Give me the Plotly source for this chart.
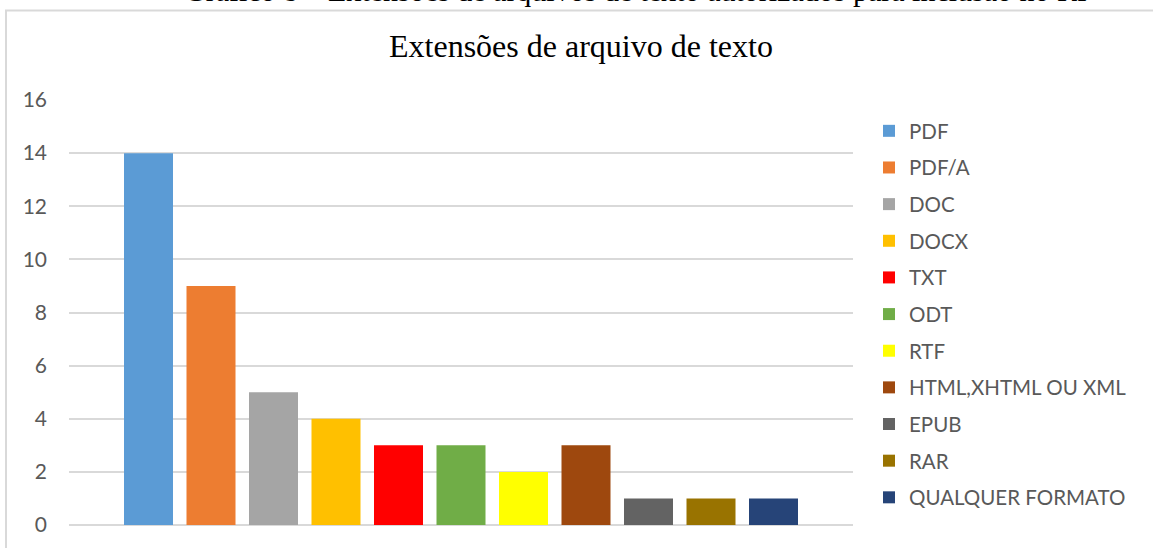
import plotly.graph_objects as go

# Extensões de arquivo de texto aceitas
categorias = ["PDF", "PDF/A", "DOC", "DOCX", "TXT", "ODT", "RTF",
              "HTML,XHTML OU XML", "EPUB", "RAR", "QUALQUER FORMATO"]
valores = [14, 9, 5, 4, 3, 3, 2, 3, 1, 1, 1]
cores = ["#5B9BD5", "#ED7D31", "#A5A5A5", "#FFC000", "#FF0000", "#70AD47",
         "#FFFF00", "#9E480E", "#636363", "#997300", "#264478"]
ticks_y = [0, 2, 4, 6, 8, 10, 12, 14, 16]

titulo = "Extensões de arquivo de texto"
legenda_figura = "Gráfico 8 – Extensões de arquivos de texto autorizados para inclusão no RI"

W, H = 1153, 548
M_L, M_R, M_T, M_B = 69, 300, 100, 23
plot_w = W - M_L - M_R
plot_h = H - M_T - M_B


def px_x(p):
    return (p - M_L) / plot_w


def px_y(p):
    return (H - M_B - p) / plot_h


fig = go.Figure()
for nome, val, cor in zip(categorias, valores, cores):
    fig.add_trace(go.Bar(
        x=[nome], y=[val], name=nome, width=0.784,
        marker=dict(color=cor, line=dict(width=0)),
        legendgroup=nome,
    ))

serif = "Times New Roman, Liberation Serif, serif"
sans = "Lato, Calibri, sans-serif"

fig.update_layout(
    width=W, height=H,
    margin=dict(l=M_L, r=M_R, t=M_T, b=M_B, autoexpand=False),
    paper_bgcolor="white", plot_bgcolor="white",
    barmode="overlay",
    showlegend=True,
    legend=dict(
        x=px_x(869), y=px_y(111), xanchor="left", yanchor="top",
        font=dict(family=sans, size=20.5, color="#595959"),
        tracegroupgap=7, bgcolor="rgba(0,0,0,0)",
    ),
    xaxis=dict(
        type="category", categoryorder="array", categoryarray=categorias,
        range=[-1.272, 11.272], showticklabels=False, showgrid=False,
        zeroline=False, showline=False, ticks="", fixedrange=True,
    ),
    yaxis=dict(
        range=[0, 16], tickvals=ticks_y, showgrid=True,
        gridcolor="#D9D9D9", gridwidth=1.5, zeroline=True,
        zerolinecolor="#D9D9D9", zerolinewidth=1.5, showline=False,
        ticks="", ticklabelstandoff=21,
        tickfont=dict(family=sans, size=21, color="#595959"),
    ),
    shapes=[dict(
        type="rect", xref="paper", yref="paper",
        x0=px_x(6), x1=px_x(1200), y0=px_y(600), y1=px_y(10.5),
        line=dict(color="#D9D9D9", width=2), fillcolor="rgba(0,0,0,0)",
        layer="below",
    )],
    annotations=[
        dict(text=titulo, xref="paper", yref="paper",
             x=px_x(581), y=px_y(46), xanchor="center", yanchor="middle",
             showarrow=False, font=dict(family=serif, size=32, color="#000000")),
        dict(text=legenda_figura, xref="paper", yref="paper",
             x=px_x(635), y=px_y(-10), xanchor="center", yanchor="middle",
             showarrow=False, font=dict(family=serif, size=30, color="#000000")),
    ],
)

fig.write_html("out.html")
